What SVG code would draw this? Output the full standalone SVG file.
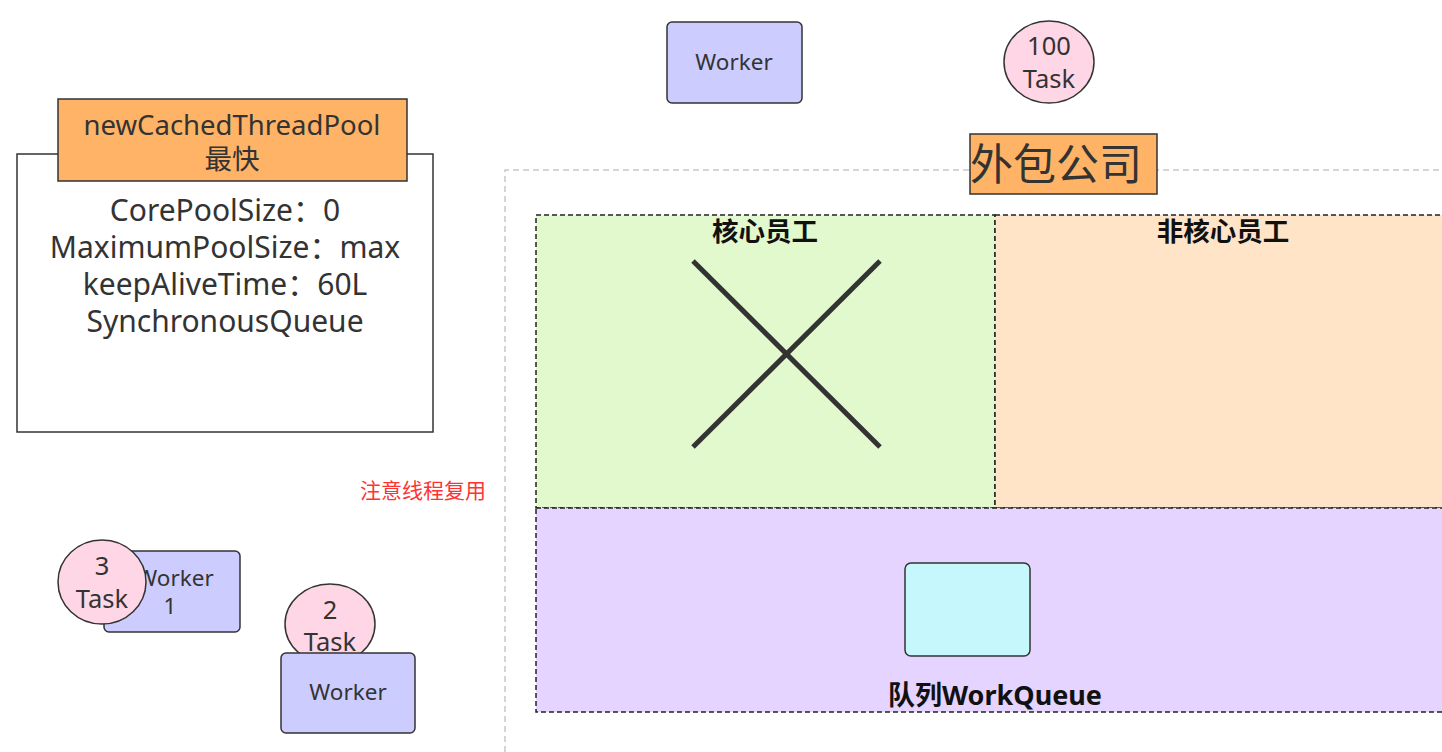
<svg xmlns="http://www.w3.org/2000/svg" width="1442" height="752" viewBox="0 0 1442 752">
<style>
text{font-family:"Noto Sans","Noto Sans CJK SC",sans-serif;fill:#333;text-anchor:middle;dominant-baseline:central}
.worker{fill:#ccccff;stroke:#333;stroke-width:1.5}
.task{fill:#ffd6e6;stroke:#333;stroke-width:1.5}
.orange{fill:#ffb366;stroke:#333;stroke-width:1.5}
.zone{stroke:#222;stroke-width:1.5;stroke-dasharray:5 3}
.bold{font-weight:bold;fill:#111}
</style>
<rect width="1442" height="752" fill="#fff"/>
<g id="company">
<path d="M505 752 V170 H1442" fill="none" stroke="#c8c8c8" stroke-width="1.5" stroke-dasharray="6 4"/>
</g>
<g id="core">
<rect class="zone" x="536" y="215" width="459" height="293" fill="#e2f8cd"/>
<text class="bold" x="765" y="231" font-size="26.5">核心员工</text>
<line x1="693" y1="261" x2="880" y2="447" stroke="#333" stroke-width="5"/>
<line x1="880" y1="261" x2="693" y2="447" stroke="#333" stroke-width="5"/>
</g>
<g id="noncore">
<rect class="zone" x="995" y="215" width="460" height="293" fill="#ffe4c8"/>
<text class="bold" x="1223" y="231" font-size="26.5">非核心员工</text>
</g>
<g id="queue">
<rect class="zone" x="536" y="508" width="919" height="204" fill="#e5d4ff"/>
<rect x="905" y="563" width="125" height="93" rx="6" fill="#c6f7fc" stroke="#333" stroke-width="1.5"/>
<text class="bold" x="995" y="694" font-size="27">队列WorkQueue</text>
</g>
<g id="company-label">
<rect class="orange" x="970" y="134" width="187" height="60"/>
<text x="1056" y="163" font-size="43">外包公司</text>
</g>
<g id="pool">
<rect x="17" y="154" width="416" height="278" fill="#fff" stroke="#333" stroke-width="1.5"/>
<rect class="orange" x="58" y="99" width="349" height="82"/>
<text x="232" y="124" font-size="27.5">newCachedThreadPool</text>
<text x="232" y="158" font-size="27.5">最快</text>
<text x="225" y="209" font-size="30">CorePoolSize：0</text>
<text x="225" y="246" font-size="30">MaximumPoolSize：max</text>
<text x="225" y="283" font-size="30">keepAliveTime：60L</text>
<text x="225" y="320" font-size="30">SynchronousQueue</text>
</g>
<g id="note">
<text x="423" y="490" font-size="21" style="fill:#f33">注意线程复用</text>
</g>
<g id="worker-top">
<rect class="worker" x="667" y="22" width="135" height="81" rx="5"/>
<text x="734" y="61" font-size="22.5">Worker</text>
</g>
<g id="task-100">
<ellipse class="task" cx="1049" cy="62" rx="45" ry="41"/>
<text x="1049" y="45" font-size="25.5">100</text>
<text x="1049" y="78" font-size="25.5">Task</text>
</g>
<g id="worker-1">
<rect class="worker" x="104" y="551" width="136" height="81" rx="5"/>
<text x="175" y="577" font-size="22.5">Worker</text>
<text x="170" y="605" font-size="22.5">1</text>
</g>
<g id="task-3">
<ellipse class="task" cx="102" cy="582" rx="44" ry="42"/>
<text x="102" y="565" font-size="25.5">3</text>
<text x="102" y="598" font-size="25.5">Task</text>
</g>
<g id="task-2">
<ellipse class="task" cx="330" cy="624" rx="45" ry="40"/>
<text x="330" y="609" font-size="25.5">2</text>
<text x="330" y="641" font-size="25.5">Task</text>
</g>
<g id="worker-bottom">
<rect class="worker" x="281" y="653" width="134" height="80" rx="5"/>
<text x="348" y="691" font-size="22.5">Worker</text>
</g>
<g id="connectors"></g>
</svg>
